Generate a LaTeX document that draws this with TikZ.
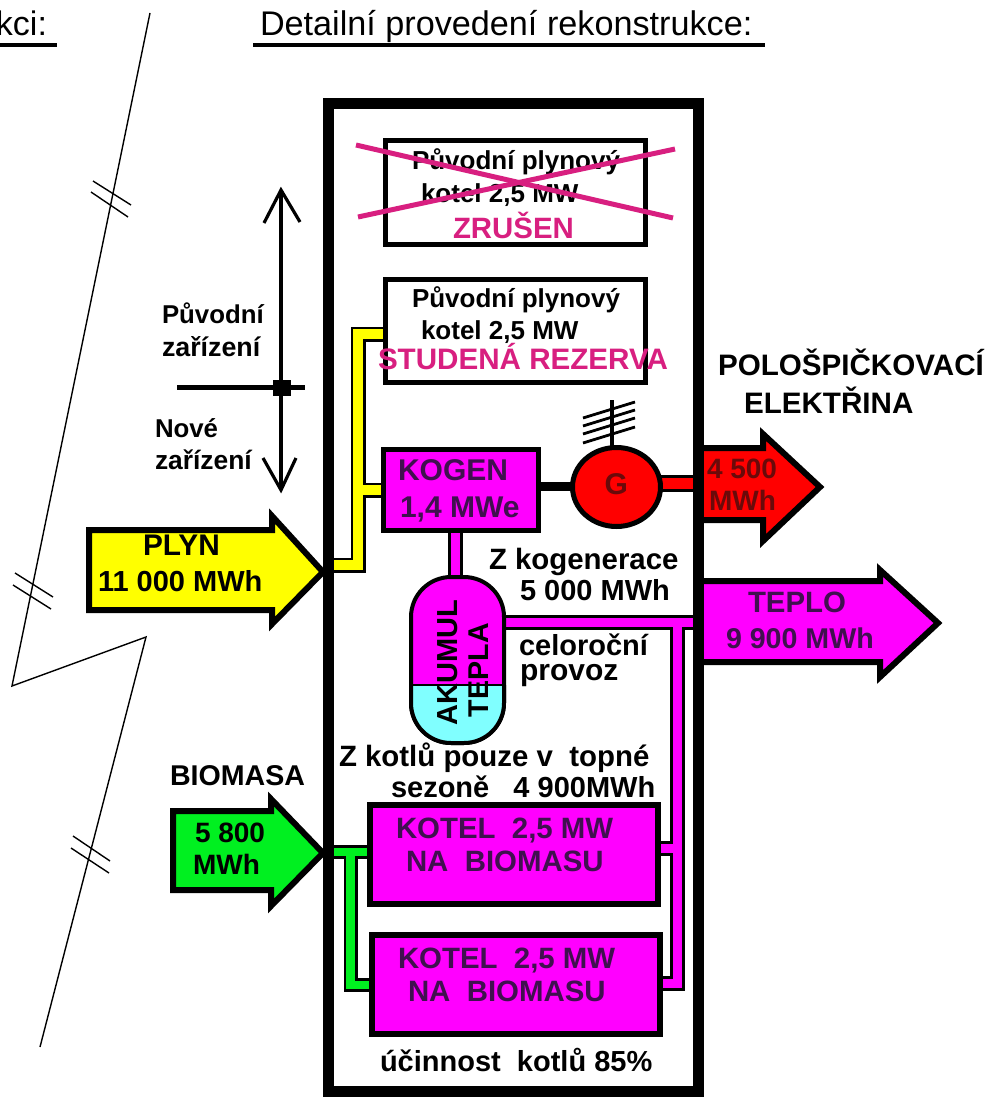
\documentclass[tikz,border=0pt]{standalone}
\usepackage{fontspec}
\setmainfont{Liberation Sans}
\usetikzlibrary{shapes.geometric}
\definecolor{mg}{HTML}{FF00FF}
\definecolor{yl}{HTML}{FFFF00}
\definecolor{gr}{HTML}{00F020}
\definecolor{rd}{HTML}{FF0000}
\definecolor{cy}{HTML}{80FFFF}
\definecolor{pk}{HTML}{D81F80}
\definecolor{dkm}{HTML}{40104F}
\definecolor{dkr}{HTML}{6A0A0A}
\tikzset{
  x=0.5pt,y=-0.5pt,
  lbl/.style={anchor=base west,inner sep=0pt,outer sep=0pt,font=\fontsize{#1pt}{#1pt}\selectfont\bfseries},
  reg/.style={anchor=base west,inner sep=0pt,outer sep=0pt,font=\fontsize{#1pt}{#1pt}\selectfont},
  boxa/.style={draw=black,line width=2.5pt,fill=white,inner sep=0pt,outer sep=0pt},
  boxb/.style={draw=black,line width=3pt,fill=mg,inner sep=0pt,outer sep=0pt},
  flow/.style={draw=black,line width=3pt,line join=miter,miter limit=4},
  thin/.style={draw=black,line width=0.7pt},
  po/.style={draw=black,line width=#1,line join=miter},
  pf/.style={line width=#1,line join=miter},
}
\begin{document}
\begin{tikzpicture}
\useasboundingbox (0,0) rectangle (1000,1103);
% thin break line
\draw[thin] (150,13) -- (12,686) -- (146,637) -- (40,1047);
\draw[thin] (93,181)--(131,205) (91,192)--(128,217);
\draw[thin] (15,573)--(53,597) (13,585)--(51,609);
\draw[thin] (73,836)--(110,861) (71,848)--(109,873);
% titles
\node (tl) [reg=17,anchor=base east] at (47,35) {kci:};
\node (tr) [reg=17.1] at (260,35) {Detailní provedení rekonstrukce:};
\draw[line width=2pt] (-10,45) -- (57,45);
\draw[line width=2pt] (253,45) -- (765,45);
% divider
\coordinate (vt) at (281,190); \coordinate (vb) at (281,490);
\draw[line width=1.6pt] (vt) -- (vb);
\draw[line width=1.6pt] (264,223) -- (vt) -- (300,222);
\draw[line width=1.6pt] (263,458) -- (vb) -- (296,458);
\draw[line width=2.5pt] (177,387) -- (305,387);
\fill (273,380) rectangle (291,396);
\node (a1) [lbl=12.9] at (162,323) {Původní};
\node (a2) [lbl=13.4] at (162,356) {zařízení};
\node (a3) [lbl=12.9] at (155,437) {Nové};
\node (a4) [lbl=13.2] at (155,469) {zařízení};
% arrows
\coordinate (plyntip) at (323,572);
\coordinate (biotip) at (323,853);
\coordinate (redstart) at (698,487);
\coordinate (tepstart) at (698,622);
\draw[flow,fill=yl] (89,530)--(272,530)--(272,516)--(plyntip)--(272,624)--(272,610)--(89,610)--cycle;
\draw[flow,fill=gr] (173,811)--(271,811)--(271,799)--(biotip)--(271,906)--(271,890)--(173,890)--cycle;
\draw[flow,fill=rd] (700,448)--(763,448)--(763,434)--(820,487)--(763,541)--(763,520)--(700,520)--cycle;
\draw[flow,fill=mg] (700,581)--(880,581)--(880,570)--(938,623)--(880,677)--(880,662)--(700,662)--cycle;
\coordinate (yj) at (358,565);
\coordinate (yt) at (358,334);
\coordinate (yk) at (358,490);
\coordinate (gj) at (350.5,852);
\coordinate (gb) at (350.5,985);
\coordinate (mj) at (677.5,622);
\coordinate (mb) at (677.5,983.5);
\coordinate (mk) at (677.5,848.5);
% pipes
\def\ypipes{(plyntip |- yj) -- (yj) -- (yt) -- (385,334) (yk) -- (383,490)}
\draw[po=7.5pt] \ypipes;
\draw[pf=5pt,yl] \ypipes;
\def\gpipes{(biotip |- gj) -- (369,852) (gj) -- (gb) -- (372,985)}
\draw[po=7pt] \gpipes;
\draw[pf=4.2pt,gr] \gpipes;
\def\mpipes{(500,622) -- (tepstart) (mj) -- (mb) -- (655,983.5) (mk) -- (655,848.5) (455.5,530) -- (455.5,580)}
\draw[po=7.5pt] \mpipes;
\draw[pf=4.5pt,mg] \mpipes;
% kogen to generator
\draw[line width=4.5pt] (535,486.5) -- (575,486.5);
\draw[po=8.5pt] (655,483.5) -- (698,483.5);
\draw[pf=5.5pt,rd] (655,483.5) -- (698,483.5);
% boxes
\node (b1) [boxa,minimum width=130pt,minimum height=52pt] at (515.5,192.5) {};
\node (b2) [boxa,minimum width=130pt,minimum height=51.5pt] at (515.5,331) {};
\node (kog) [boxb,line width=2.5pt,minimum width=77.5pt,minimum height=40.5pt] at (461,490) {};
\node (k1) [boxb,minimum width=144pt,minimum height=49.5pt] at (514,854.5) {};
\node (k2) [boxb,minimum width=144pt,minimum height=49.5pt] at (516,984.5) {};
% generator
\node (gen) [ellipse,draw=black,line width=2.5pt,fill=rd,inner sep=0pt,outer sep=0pt,minimum width=44pt,minimum height=39.5pt] at (616.5,487) {};
\draw[line width=1.6pt] (612,447) -- (612,400);
\draw[line width=1.4pt] (583,418)--(635,402) (583,426)--(635,410) (583,434)--(635,418) (583,443)--(635,427);
% accumulator
\node (acc) [draw=black,line width=2pt,fill=mg,rounded corners=20pt,inner sep=0pt,outer sep=0pt,minimum width=46.5pt,minimum height=83pt] at (457.5,660) {};
\begin{scope}
\clip (400,685) rectangle (520,750);
\node (accb) [draw=black,line width=2pt,fill=cy,rounded corners=20pt,inner sep=0pt,outer sep=0pt,minimum width=46.5pt,minimum height=83pt] at (457.5,660) {};
\end{scope}
\draw[line width=0.8pt] (acc.west |- 0,685) -- (acc.east |- 0,685);
% frame
\node (frame) [draw=black,line width=5.5pt,inner sep=0pt,outer sep=0pt,minimum width=185.25pt,minimum height=494.25pt] at (513.25,597.25) {};
% texts
\node (t1) [lbl=13] at (412,169) {Původní plynový};
\node (t2) [lbl=13] at (421,202) {kotel 2,5 MW};
\node (t3) [lbl=14.7,text=pk] at (453,238) {ZRUŠEN};
\draw[pk,line width=2.5pt] (356,145) -- (673,218);
\draw[pk,line width=2.5pt] (358,217) -- (675,149);
\node (t4) [lbl=13] at (412,307) {Původní plynový};
\node (t5) [lbl=13] at (421,339) {kotel 2,5 MW};
\node (t6) [lbl=14.8,text=pk] at (378,369) {STUDENÁ REZERVA};
\node (t7) [lbl=15,text=dkm] at (398,480) {KOGEN};
\node (t8) [lbl=15,text=dkm] at (400,517) {1,4 MWe};
\node (t9) [lbl=15,text=dkr] at (604.5,494) {G};
\node (t10) [lbl=14.7] at (489,569) {Z kogenerace};
\node (t11) [lbl=14.5] at (520,600) {5 000 MWh};
\node (t12) [lbl=14.5] at (519,655) {celoroční};
\node (t13) [lbl=15] at (520,680) {provoz};
\node (t14) [lbl=14.5,rotate=90] at (457,725) {AKUMUL};
\node (t15) [lbl=14.3,rotate=90] at (488,717) {TEPLA};
\node (t16) [lbl=14.7] at (339,766) {Z kotlů pouze v\ \ topné};
\node (t17) [lbl=14.5] at (391,797) {sezoně\ \ \ 4 900MWh};
\node (t18) [lbl=14.7,text=dkm] at (396,838) {KOTEL\ \ 2,5 MW};
\node (t19) [lbl=14.7,text=dkm] at (406,871) {NA\ \ BIOMASU};
\node (t20) [lbl=14.7,text=dkm] at (398,968) {KOTEL\ \ 2,5 MW};
\node (t21) [lbl=14.7,text=dkm] at (408,1001) {NA\ \ BIOMASU};
\node (t22) [lbl=14.5] at (380,1071) {účinnost\ \ kotlů 85\%};
\node (t23) [lbl=14.3] at (170,785) {BIOMASA};
\node (t24) [lbl=14] at (195,842) {5 800};
\node (t25) [lbl=14] at (193,874) {MWh};
\node (t26) [lbl=14.9] at (143,555) {PLYN};
\node (t27) [lbl=14.5] at (98,591) {11 000 MWh};
\node (t28) [lbl=14.8] at (718,375) {POLOŠPIČKOVACÍ};
\node (t29) [lbl=14.8] at (744,413) {ELEKTŘINA};
\node (t30) [lbl=14,text=dkr] at (707,478) {4 500};
\node (t31) [lbl=14,text=dkr] at (709,510) {MWh};
\node (t32) [lbl=14.7,text=dkm] at (748,612) {TEPLO};
\node (t33) [lbl=14.3,text=dkm] at (726,648) {9 900 MWh};
\end{tikzpicture}
\end{document}
